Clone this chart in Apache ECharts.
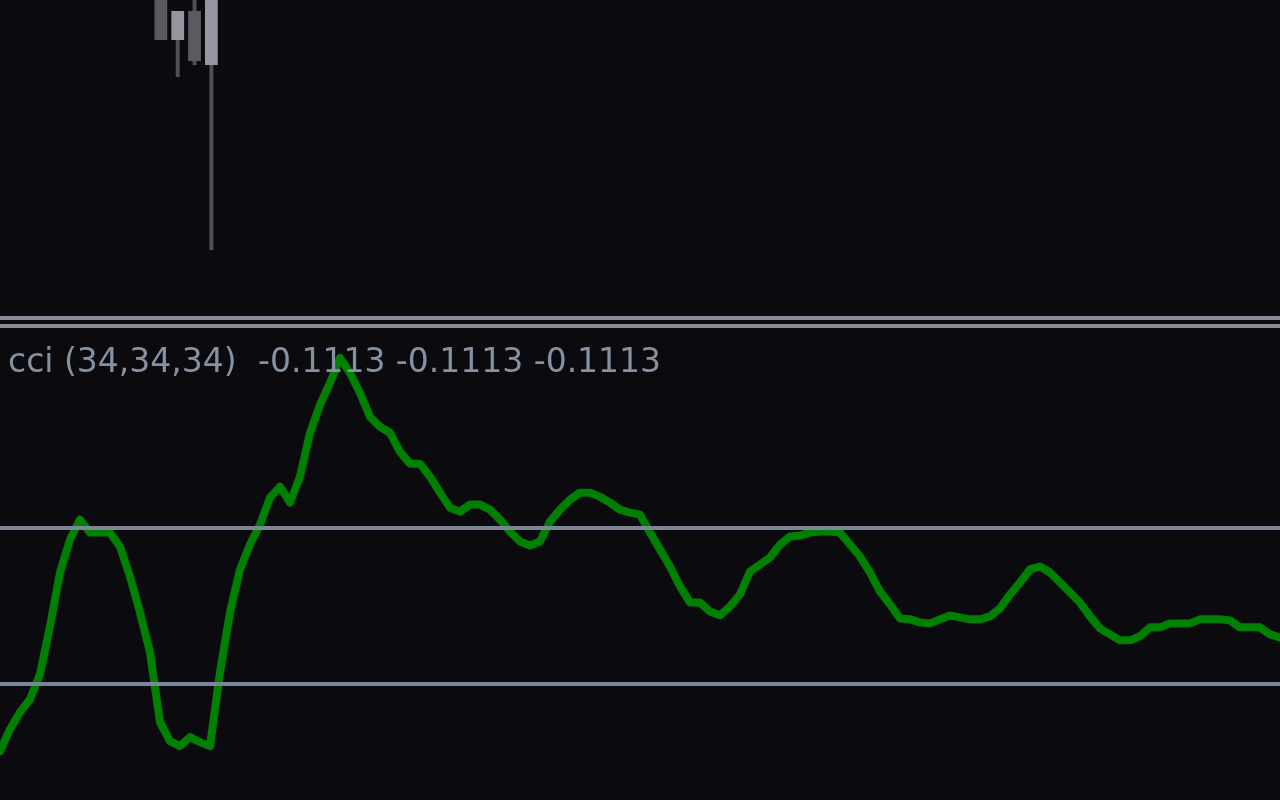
<!DOCTYPE html>
<html>
<head>
<meta charset="utf-8">
<script src="https://cdn.jsdelivr.net/npm/echarts@6/dist/echarts.min.js"></script>
<style>
html,body{margin:0;padding:0;background:#0a0a0f;}
#c{width:1280px;height:800px;}
</style>
</head>
<body>
<div id="c"></div>
<script>
// ---- data ----
const cciName = 'cci';
const cciParams = [34, 34, 34];
const cciLastValues = [-0.1113, -0.1113, -0.1113];
const cciLevels = [100, -100];

// candles: slot index on the price axis, open, close, low, high
const candleSlots = [9, 10, 11, 12];
const candleOpen  = [1015, 960, 989, 935];
const candleClose = [960, 989, 939, 1030];
const candleLow   = [960, 923, 935, 750];
const candleHigh  = [1030, 989, 1010, 1040];

// CCI values (one per bar)
const cciValues = [
 -187.2,-159.0,-137.2,-120.5,-88.5,-26.9,42.3,84.6,110.3,93.6,
 93.6,93.6,75.6,37.2,-9.0,-60.3,-150.0,-174.4,-180.8,-169.2,
 -175.6,-180.8,-85.9,-9.0,46.2,78.2,103.8,138.5,152.6,132.1,
 165.4,221.8,257.7,285.9,317.9,298.7,273.1,242.3,229.5,221.8,
 197.4,182.1,182.1,165.4,144.9,125.6,120.5,129.5,129.5,123.1,
 110.3,94.9,82.1,76.9,82.1,107.7,123.1,135.9,144.9,144.9,
 139.7,132.1,123.1,119.2,116.7,93.6,71.8,50.0,24.4,3.8,
 3.8,-7.7,-12.8,-1.3,14.1,43.6,52.6,61.5,78.2,88.5,
 89.7,93.6,94.9,94.9,93.6,78.2,62.8,42.3,17.9,1.3,
 -16.7,-17.9,-21.8,-23.1,-17.9,-12.8,-15.4,-17.9,-17.9,-14.1,
 -3.8,14.1,29.5,46.2,50.0,42.3,29.5,16.7,3.8,-14.1,
 -29.5,-37.2,-44.9,-44.9,-39.7,-28.2,-28.2,-23.1,-23.1,-23.1,
 -17.9,-17.9,-17.9,-19.2,-28.2,-28.2,-28.2,-37.2,-41.0
];

const cciCategories = cciValues.map((_, i) => String(i));
const candleCategories = Array.from({length: 76}, (_, i) => String(i));
const candleData = candleSlots.map((s, i) => [s, candleOpen[i], candleClose[i], candleLow[i], candleHigh[i]]);

const chart = echarts.init(document.getElementById('c'), null, {renderer: 'canvas'});
const txtColor = '#8590a0';
const sepColor = '#8a8a9a';

chart.setOption({
  backgroundColor: '#0a0a0f',
  animation: false,
  title: [
    {
      text: cciName + ' (' + cciParams.join(',') + ')',
      left: 8, top: 347, padding: 0,
      textStyle: {color: txtColor, fontSize: 33, fontWeight: 'normal', fontFamily: 'DejaVu Sans'}
    },
    {
      text: cciLastValues.map(v => v.toFixed(4)).join(' '),
      left: 258, top: 347, padding: 0,
      textStyle: {color: txtColor, fontSize: 33, fontWeight: 'normal', fontFamily: 'DejaVu Sans'}
    }
  ],
  grid: [
    {left: 1, top: 0, width: 1292, height: 318},
    {left: 0, top: 333, width: 1280, height: 468}
  ],
  xAxis: [
    {
      gridIndex: 0, type: 'category', data: candleCategories, boundaryGap: true,
      axisLine: {show: true, onZero: false, lineStyle: {color: sepColor, width: 4}},
      axisTick: {show: false}, axisLabel: {show: false}, splitLine: {show: false}
    },
    {
      gridIndex: 1, type: 'category', data: cciCategories, boundaryGap: false,
      position: 'top', offset: 7,
      axisLine: {show: true, onZero: false, lineStyle: {color: sepColor, width: 4}},
      axisTick: {show: false}, axisLabel: {show: false}, splitLine: {show: false}
    }
  ],
  yAxis: [
    {gridIndex: 0, type: 'value', min: 682, max: 1000, show: false, splitLine: {show: false}},
    {gridIndex: 1, type: 'value', min: -250, max: 350, show: false, splitLine: {show: false}}
  ],
  graphic: [
    {type: 'rect', left: 0, top: 316, shape: {width: 2, height: 4}, style: {fill: sepColor}, silent: true}
  ],
  series: [
    {
      type: 'custom',
      xAxisIndex: 0, yAxisIndex: 0,
      clip: false,
      data: candleData,
      renderItem: function (params, api) {
        const idx = api.value(0);
        const o = api.value(1), c = api.value(2), lo = api.value(3), hi = api.value(4);
        const pO = api.coord([idx, o]);
        const pC = api.coord([idx, c]);
        const pL = api.coord([idx, lo]);
        const pH = api.coord([idx, hi]);
        const bw = api.size([1, 0])[0] * 0.76;
        const ww = 4;
        const up = c > o;
        return {
          type: 'group',
          children: [
            {type: 'rect', shape: {x: pO[0] - ww / 2, y: pH[1], width: ww, height: pL[1] - pH[1]},
             style: {fill: '#505056'}},
            {type: 'rect', shape: {x: pO[0] - bw / 2, y: Math.min(pO[1], pC[1]), width: bw, height: Math.abs(pO[1] - pC[1])},
             style: {fill: up ? '#9696a0' : '#5a5a60'}}
          ]
        };
      }
    },
    {
      type: 'line',
      xAxisIndex: 1, yAxisIndex: 1,
      data: cciValues,
      showSymbol: false, symbol: 'none',
      z: 2,
      lineStyle: {color: '#008000', width: 8, cap: 'round', join: 'round'}
    },
    {
      type: 'line',
      xAxisIndex: 1, yAxisIndex: 1,
      data: [],
      z: 5,
      silent: true,
      markLine: {
        silent: true, symbol: ['none', 'none'],
        label: {show: false},
        lineStyle: {color: '#7a8696', width: 4, type: 'solid'},
        data: cciLevels.map(v => ({yAxis: v}))
      }
    }
  ]
});
</script>
</body>
</html>
